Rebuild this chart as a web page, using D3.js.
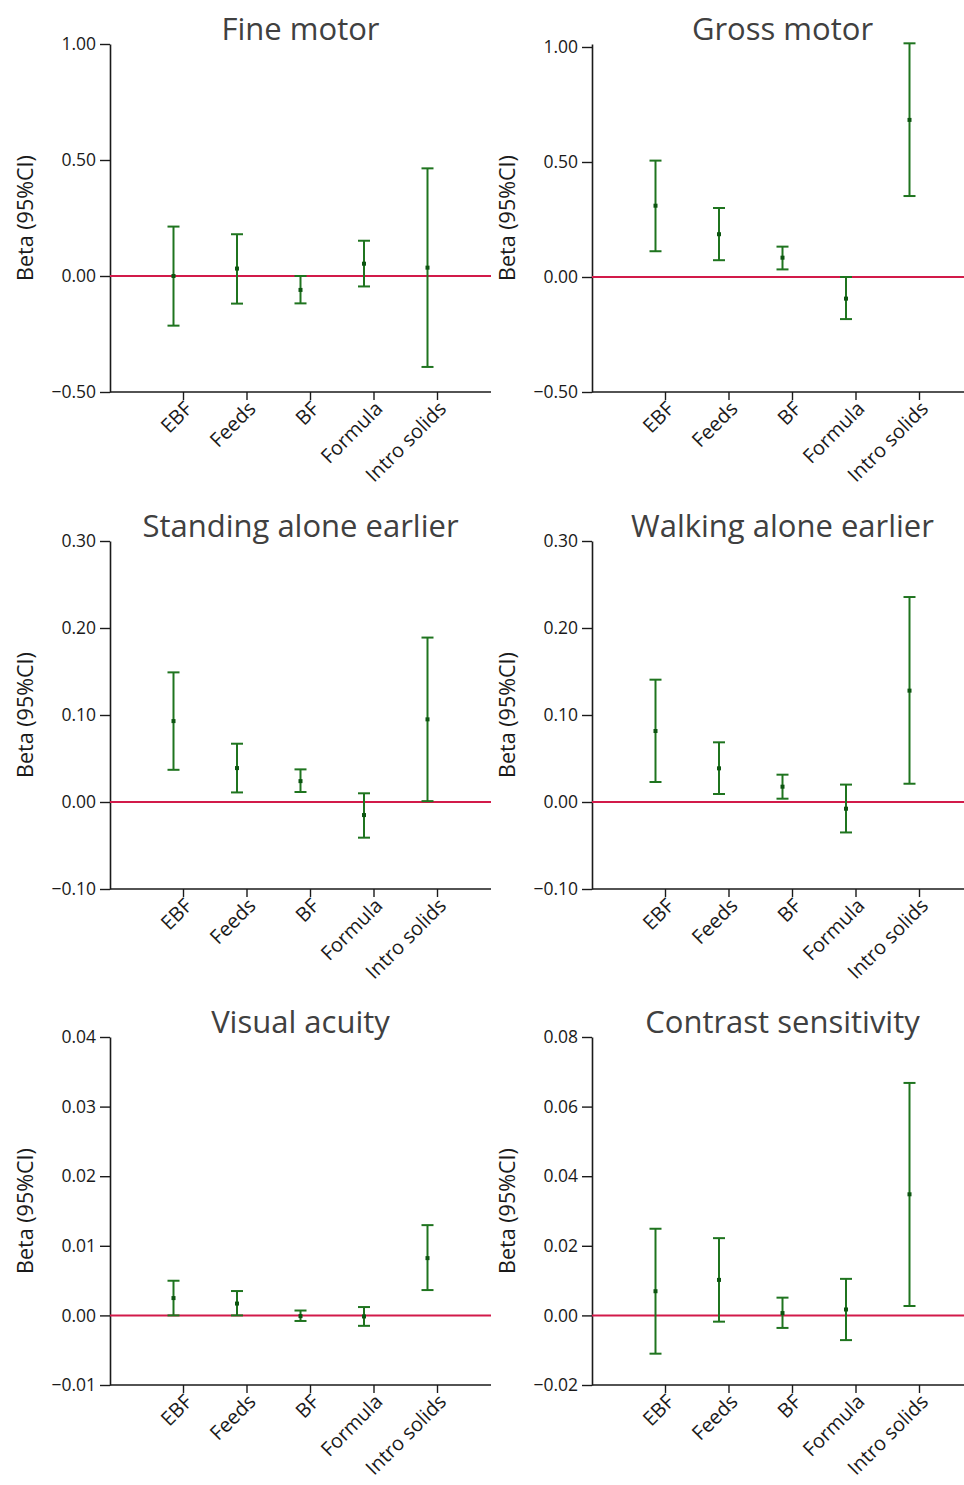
<!DOCTYPE html>
<html>
<head>
<meta charset="utf-8">
<script src="https://cdn.jsdelivr.net/npm/d3@7/dist/d3.min.js"></script>
<style>
  html, body { margin: 0; padding: 0; background: #fff; }
  svg { display: block; font-family: "Open Sans", "Noto Sans", sans-serif; }
  .tick text { fill: #1a1a1a; }
</style>
</head>
<body>
<svg id="chart" width="964" height="1485"></svg>
<script>
// Exposure categories (x axis)
const categories = ["EBF", "Feeds", "BF", "Formula", "Intro solids"];

// Fine motor
const fineMotorBeta = [0.000, 0.032, -0.060, 0.053, 0.036];
const fineMotorLow  = [-0.214, -0.119, -0.118, -0.045, -0.392];
const fineMotorHigh = [0.213, 0.180, 0.000, 0.152, 0.464];
const fineMotorTicks = [-0.5, 0, 0.5, 1.0];

// Gross motor
const grossMotorBeta = [0.310, 0.186, 0.084, -0.094, 0.683];
const grossMotorLow  = [0.112, 0.073, 0.033, -0.183, 0.352];
const grossMotorHigh = [0.506, 0.300, 0.132, 0.000, 1.016];
const grossMotorTicks = [-0.5, 0, 0.5, 1.0];

// Standing alone earlier
const standingBeta = [0.093, 0.039, 0.024, -0.015, 0.095];
const standingLow  = [0.037, 0.011, 0.0115, -0.041, 0.001];
const standingHigh = [0.149, 0.067, 0.0375, 0.010, 0.189];
const standingTicks = [-0.1, 0, 0.1, 0.2, 0.3];

// Walking alone earlier
const walkingBeta = [0.0816, 0.0387, 0.0176, -0.0077, 0.128];
const walkingLow  = [0.023, 0.0092, 0.0038, -0.035, 0.021];
const walkingHigh = [0.1406, 0.0686, 0.0314, 0.020, 0.2356];
const walkingTicks = [-0.1, 0, 0.1, 0.2, 0.3];

// Visual acuity
const acuityBeta = [0.00249, 0.0017, -0.0001, -0.00015, 0.00823];
const acuityLow  = [0.0000, 0.0000, -0.0008, -0.0015, 0.00364];
const acuityHigh = [0.00498, 0.0035, 0.0007, 0.0012, 0.01297];
const acuityTicks = [-0.01, 0, 0.01, 0.02, 0.03, 0.04];

// Contrast sensitivity
const contrastBeta = [0.00695, 0.0102, 0.00067, 0.0017, 0.0348];
const contrastLow  = [-0.011, -0.0018, -0.0036, -0.0071, 0.0027];
const contrastHigh = [0.0249, 0.0222, 0.0051, 0.0105, 0.0668];
const contrastTicks = [-0.02, 0, 0.02, 0.04, 0.06, 0.08];

const panels = [
  { title: "Fine motor", beta: fineMotorBeta, low: fineMotorLow, high: fineMotorHigh, ticks: fineMotorTicks, top: 1.0 },
  { title: "Gross motor", beta: grossMotorBeta, low: grossMotorLow, high: grossMotorHigh, ticks: grossMotorTicks, top: 1.013 },
  { title: "Standing alone earlier", beta: standingBeta, low: standingLow, high: standingHigh, ticks: standingTicks, top: 0.3 },
  { title: "Walking alone earlier", beta: walkingBeta, low: walkingLow, high: walkingHigh, ticks: walkingTicks, top: 0.3 },
  { title: "Visual acuity", beta: acuityBeta, low: acuityLow, high: acuityHigh, ticks: acuityTicks, top: 0.04 },
  { title: "Contrast sensitivity", beta: contrastBeta, low: contrastLow, high: contrastHigh, ticks: contrastTicks, top: 0.08 }
];

// Layout
const colLeft = [110, 592];
const plotWidth = 381;
const rowTop = [44, 541, 1037];
const plotHeight = 348;
const tickShift = 9.5;      // category ticks sit slightly right of the intervals
const capHalf = 6;

const green = "#1f741f";
const dotGreen = "#0c5510";
const zeroRed = "#d21a4a";
const axisColor = "#1a1a1a";

const svg = d3.select("#chart");
const fmt = d3.format(".2f");

panels.forEach((p, i) => {
  const left = colLeft[i % 2];
  const right = left + plotWidth;
  const top = rowTop[Math.floor(i / 2)];
  const bottom = top + plotHeight;

  const x = d3.scalePoint().domain(categories).range([left, right]).padding(1);
  const xTicks = x.copy().range([left + tickShift, right + tickShift]);
  const y = d3.scaleLinear().domain([p.ticks[0], p.top]).range([bottom, top]);

  const g = svg.append("g");

  // Title
  g.append("text")
    .attr("x", (left + right) / 2)
    .attr("y", top - 4)
    .attr("text-anchor", "middle")
    .attr("font-size", 31)
    .attr("fill", "#404040")
    .text(p.title);

  // Y axis
  const yAxis = d3.axisLeft(y).tickValues(p.ticks).tickFormat(fmt).tickSize(10).tickSizeOuter(0).tickPadding(4);
  const yg = g.append("g").attr("transform", `translate(${left},0)`).call(yAxis);
  yg.select(".domain").attr("stroke", axisColor).attr("stroke-width", 1.6);
  yg.selectAll(".tick line").attr("stroke", axisColor).attr("stroke-width", 1.4);
  yg.selectAll(".tick text").attr("font-size", 17.5).attr("font-family", "Open Sans, sans-serif");

  // Y axis title
  g.append("text")
    .attr("transform", `translate(${left - 77},${(top + bottom) / 2}) rotate(-90)`)
    .attr("text-anchor", "middle")
    .attr("font-size", 21.5)
    .attr("fill", "#1a1a1a")
    .text("Beta (95%CI)");

  // X axis
  g.append("line")
    .attr("x1", left).attr("x2", right)
    .attr("y1", bottom).attr("y2", bottom)
    .attr("stroke", axisColor).attr("stroke-width", 1.6);
  const xAxis = d3.axisBottom(xTicks).tickSize(8).tickSizeOuter(0);
  const xg = g.append("g").attr("transform", `translate(0,${bottom})`).call(xAxis);
  xg.select(".domain").remove();
  xg.selectAll(".tick line").attr("stroke", axisColor).attr("stroke-width", 1.4);
  xg.selectAll(".tick text")
    .attr("font-size", 20)
    .attr("font-family", "Open Sans, sans-serif")
    .attr("text-anchor", "end")
    .attr("x", 0).attr("y", 0).attr("dy", "0.35em")
    .attr("transform", "translate(5,13) rotate(-45)");

  // Zero reference line
  g.append("line")
    .attr("x1", left).attr("x2", right)
    .attr("y1", y(0)).attr("y2", y(0))
    .attr("stroke", zeroRed).attr("stroke-width", 2);

  // Confidence intervals
  const rows = categories.map((c, k) => ({ c, beta: p.beta[k], low: p.low[k], high: p.high[k] }));
  const eb = g.append("g").selectAll("g").data(rows).join("g");
  eb.append("line")
    .attr("x1", d => x(d.c)).attr("x2", d => x(d.c))
    .attr("y1", d => y(d.low)).attr("y2", d => y(d.high))
    .attr("stroke", green).attr("stroke-width", 2);
  eb.append("line")
    .attr("x1", d => x(d.c) - capHalf).attr("x2", d => x(d.c) + capHalf)
    .attr("y1", d => y(d.high)).attr("y2", d => y(d.high))
    .attr("stroke", green).attr("stroke-width", 2);
  eb.append("line")
    .attr("x1", d => x(d.c) - capHalf).attr("x2", d => x(d.c) + capHalf)
    .attr("y1", d => y(d.low)).attr("y2", d => y(d.low))
    .attr("stroke", green).attr("stroke-width", 2);
  eb.append("rect")
    .attr("x", d => x(d.c) - 2).attr("y", d => y(d.beta) - 2)
    .attr("width", 4).attr("height", 4)
    .attr("fill", dotGreen);
});
</script>
</body>
</html>
